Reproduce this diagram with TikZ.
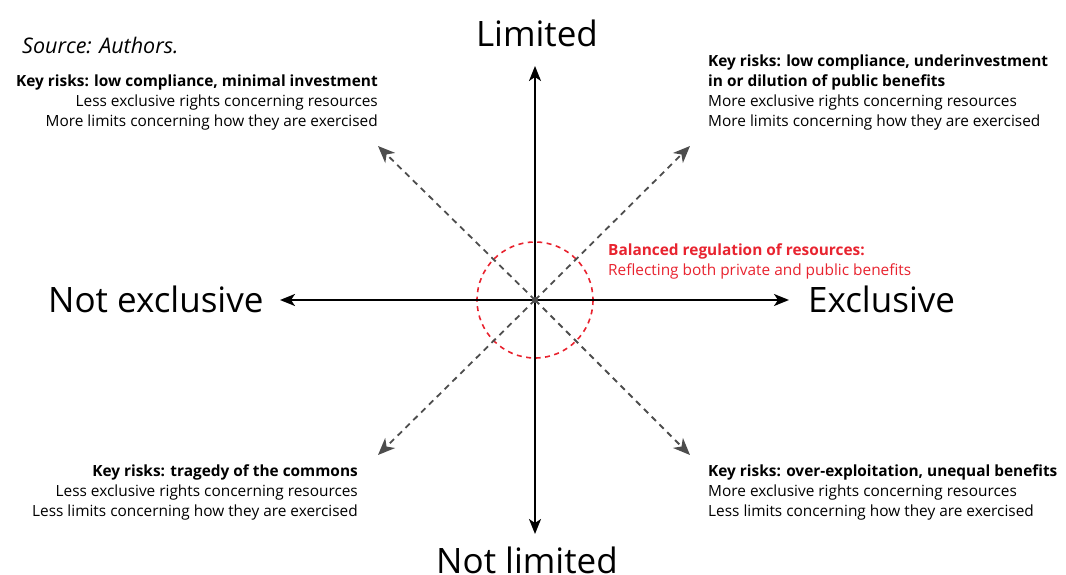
\documentclass[tikz,border=0pt]{standalone}
\usepackage{fontspec}
\setmainfont{Open Sans}
\usetikzlibrary{arrows.meta}
\definecolor{myred}{HTML}{E8232F}
\definecolor{dgray}{HTML}{4D4D4D}
\begin{document}
\begin{tikzpicture}[x=1pt,y=-1pt,
  axis/.style={line width=2pt, -{Stealth[length=15pt,width=12pt,inset=4pt]}},
  diag/.style={dgray, line width=1.8pt, dash pattern=on 6pt off 5pt, -{Stealth[length=17pt,width=14pt,inset=5pt]}},
  big/.style={font=\fontsize{35}{40}\selectfont, inner sep=0},
  small/.style={font=\fontsize{15.4}{20}\selectfont, inner sep=0},
  redtxt/.style={small, text=myred, align=left},
]
\useasboundingbox (0,0) rectangle (1066,575);
\coordinate (O) at (535,300);
\coordinate (T) at (535,66);
\coordinate (B) at (535,534);
\coordinate (L) at (280,300);
\coordinate (R) at (789,300);
\coordinate (UL) at (378,146);
\coordinate (UR) at (690,146);
\coordinate (LL) at (378,455);
\coordinate (LR) at (690,455);
% circle
\draw[myred, line width=1.6pt, dash pattern=on 5pt off 4.5pt] (O) circle (58);
% diagonals
\draw[diag] (O) -- (UL);
\draw[diag] (O) -- (UR);
\draw[diag] (O) -- (LL);
\draw[diag] (O) -- (LR);
% axes
\draw[axis] (O) -- (T);
\draw[axis] (O) -- (B);
\draw[axis] (O) -- (L);
\draw[axis] (O) -- (R);
\fill[dgray] (O) circle (3);
% labels
\node[big, anchor=base] (lim) at (537,47) {Limited};
\node[big, anchor=base] (nlim) at (527,573) {Not limited};
\node[big, anchor=base west] (nex) at (48,312) {Not exclusive};
\node[big, anchor=base west] (ex) at (808,312) {Exclusive};
\node[anchor=base west, font=\fontsize{21.5}{24}\selectfont\itshape, inner sep=0] (src) at (22,54) {Source: Authors.};
\node[small, align=right, anchor=north east] (ul) at (378,75) {\textbf{Key risks: low compliance, minimal investment}\\Less exclusive rights concerning resources\\More limits concerning how they are exercised};
\node[small, align=left, anchor=north west] (ur) at (708,55) {\textbf{Key risks: low compliance, underinvestment}\\\textbf{in or dilution of public benefits}\\More exclusive rights concerning resources\\More limits concerning how they are exercised};
\node[small, align=right, anchor=north east] (ll) at (358,465) {\textbf{Key risks: tragedy of the commons}\\Less exclusive rights concerning resources\\Less limits concerning how they are exercised};
\node[small, align=left, anchor=north west] (lr) at (708,465) {\textbf{Key risks: over-exploitation, unequal benefits}\\More exclusive rights concerning resources\\Less limits concerning how they are exercised};
\node[redtxt, anchor=north west] (bal) at (608,244) {\textbf{Balanced regulation of resources:}\\Reflecting both private and public benefits};
\end{tikzpicture}
\end{document}
